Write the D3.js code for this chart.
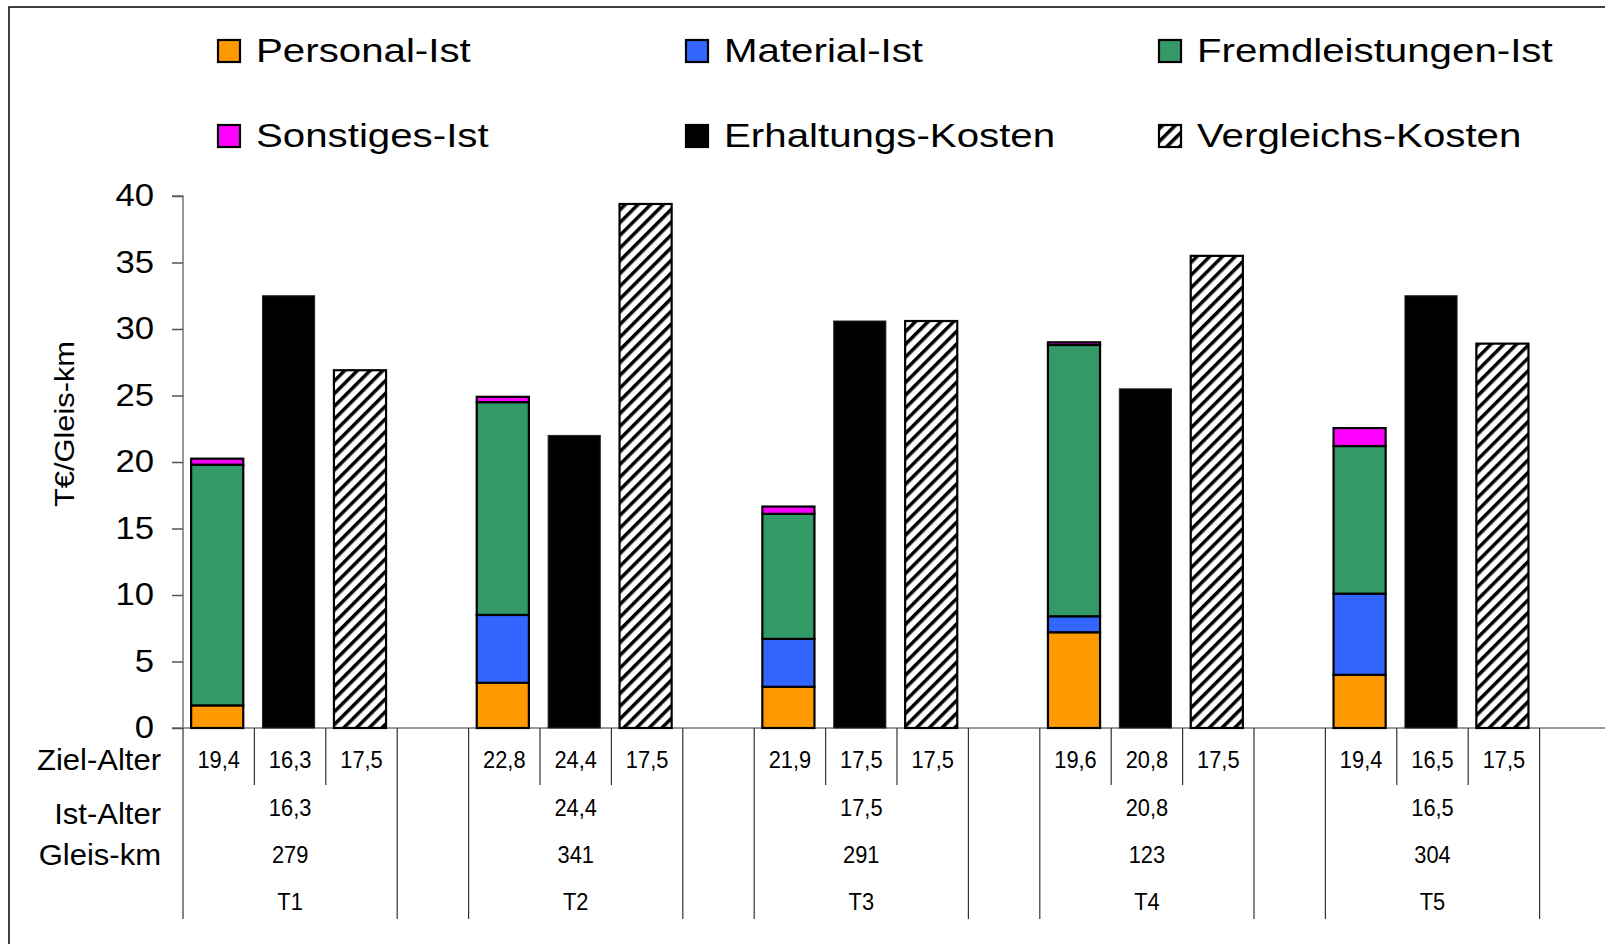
<!DOCTYPE html>
<html><head><meta charset="utf-8">
<script src="https://cdnjs.cloudflare.com/ajax/libs/d3/7.8.5/d3.min.js"></script>
<style>
html,body{margin:0;padding:0;background:#fff;overflow:hidden}
text{font-family:"Liberation Sans",Arial,sans-serif;fill:#000}
</style></head>
<body>
<svg id="c" width="1605" height="944"></svg>
<script>
const groups = ["T1","T2","T3","T4","T5"];
const personal  = [1.7, 3.4, 3.1, 7.2, 4.0];
const material  = [0.0, 5.1, 3.6, 1.2, 6.1];
const fremd     = [18.1, 16.0, 9.4, 20.4, 11.1];
const sonstiges = [0.45, 0.4, 0.55, 0.2, 1.35];
const erhaltung = [32.5, 22.0, 30.6, 25.5, 32.5];
const vergleich = [26.9, 39.4, 30.6, 35.5, 28.9];
const zielAlter = [["19,4","16,3","17,5"],["22,8","24,4","17,5"],["21,9","17,5","17,5"],["19,6","20,8","17,5"],["19,4","16,5","17,5"]];
const istAlter  = ["16,3","24,4","17,5","20,8","16,5"];
const gleisKm   = ["279","341","291","123","304"];
const yTicks    = [0,5,10,15,20,25,30,35,40];
const stackKeys = ["Personal-Ist","Material-Ist","Fremdleistungen-Ist","Sonstiges-Ist"];
const legendItems = ["Personal-Ist","Material-Ist","Fremdleistungen-Ist","Sonstiges-Ist","Erhaltungs-Kosten","Vergleichs-Kosten"];
const colors = {"Personal-Ist":"#FF9900","Material-Ist":"#3366FF","Fremdleistungen-Ist":"#339966","Sonstiges-Ist":"#FF00FF","Erhaltungs-Kosten":"#000000","Vergleichs-Kosten":"url(#hatch)"};
const rowLabels = ["Ziel-Alter","Ist-Alter","Gleis-km"];

const svg = d3.select("#c");
const defs = svg.append("defs");
const pat = defs.append("pattern").attr("id","hatch").attr("patternUnits","userSpaceOnUse")
  .attr("width",9).attr("height",9).attr("patternTransform","rotate(45)");
pat.append("rect").attr("width",9).attr("height",9).attr("fill","#fff");
pat.append("line").attr("x1",0).attr("y1",0).attr("x2",0).attr("y2",9).attr("stroke","#000").attr("stroke-width",7);

// frame
svg.append("rect").attr("x",9).attr("y",7).attr("width",1700).attr("height",1000)
  .attr("fill","none").attr("stroke","#000").attr("stroke-width",1.5);

const X0 = 183, X1 = 1611, Y0 = 728, Ytop = 196;
const y = d3.scaleLinear().domain([0,40]).range([Y0, Ytop]);

// slots: 3 bars + 1 gap per group
const slots = [];
groups.forEach((g,gi)=>{ for(let k=0;k<4;k++) slots.push(g+"_"+k); });
const xs = d3.scaleLinear().domain([0, slots.length]).range([X0, X1]);
const xb = d3.scaleBand().domain(slots).range([X0-1.5, X1-1.5]).paddingInner(0.27).paddingOuter(0.135);

// y axis
const yAxis = d3.axisLeft(y).tickValues(yTicks).tickSize(11).tickPadding(18).tickFormat(d3.format("d"));
const ya = svg.append("g").attr("transform",`translate(${X0},0)`).call(yAxis);
ya.select(".domain").attr("stroke","#777").attr("stroke-width",1.5).attr("d",`M-11,${Ytop}H0V${Y0}H-11`);
ya.selectAll(".tick line").attr("stroke","#555").attr("stroke-width",1.5);
ya.selectAll(".tick text").style("font-size","31px").attr("fill","#000")
  .attr("transform","scale(1.12,1)");
ya.selectAll(".tick text").each(function(){ d3.select(this).attr("x", -29/1.12); });

// y title
svg.append("text").attr("transform","translate(64,424) rotate(-90) scale(1.1,1)")
  .attr("text-anchor","middle").attr("dominant-baseline","central")
  .style("font-size","28px").text("T€/Gleis-km");

// x axis line
svg.append("line").attr("x1",X0).attr("x2",1605).attr("y1",Y0).attr("y2",Y0)
  .attr("stroke","#777").attr("stroke-width",1.5);

// stacked bars
groups.forEach((g,gi)=>{
  const vals = [personal[gi], material[gi], fremd[gi], sonstiges[gi]];
  let acc = 0;
  vals.forEach((v,k)=>{
    if(v<=0) return;
    svg.append("rect").attr("x",xb(g+"_0")).attr("width",xb.bandwidth())
      .attr("y",y(acc+v)).attr("height",y(acc)-y(acc+v))
      .attr("fill",colors[stackKeys[k]]).attr("stroke","#000").attr("stroke-width",2.2);
    acc += v;
  });
  svg.append("rect").attr("x",xb(g+"_1")).attr("width",xb.bandwidth())
    .attr("y",y(erhaltung[gi])).attr("height",Y0-y(erhaltung[gi]))
    .attr("fill","#000").attr("stroke","#222").attr("stroke-width",1);
  svg.append("rect").attr("x",xb(g+"_2")).attr("width",xb.bandwidth())
    .attr("y",y(vergleich[gi])).attr("height",Y0-y(vergleich[gi]))
    .attr("fill","url(#hatch)").attr("stroke","#000").attr("stroke-width",2.2);
});

// table lines
const tbl = svg.append("g").attr("stroke","#333").attr("stroke-width",1.2);
const shortBottom = 785, fullBottom = 919;
for(let i=0;i<=slots.length;i++){
  const m = i % 4;
  const full = (m===0 || m===3);
  tbl.append("line").attr("x1",xs(i)).attr("x2",xs(i)).attr("y1",Y0).attr("y2",full?fullBottom:shortBottom);
}

// table text
const rowY = {ziel:760, ist:808, gleis:855, t:902};
function cell(x, yy, t){
  svg.append("text").attr("transform",`translate(${x},${yy}) scale(0.95,1)`)
    .attr("text-anchor","middle").attr("dominant-baseline","central").style("font-size","23px").text(t);
}
groups.forEach((g,gi)=>{
  zielAlter[gi].forEach((t,k)=>{ cell(xs(gi*4+k+0.5), rowY.ziel, t); });
  const cx = xs(gi*4+1.5);
  cell(cx, rowY.ist, istAlter[gi]);
  cell(cx, rowY.gleis, gleisKm[gi]);
  cell(cx, rowY.t, g);
});
const rlY = [760, 814, 855];
rowLabels.forEach((l,i)=>{
  svg.append("text").attr("transform",`translate(161,${rlY[i]}) scale(1.07,1)`).attr("text-anchor","end").attr("dominant-baseline","central")
    .style("font-size","29px").text(l);
});

// legend
const legX = [218, 686, 1159], legY = [51, 136];
legendItems.forEach((l,i)=>{
  const cx = legX[i%3], cy = legY[Math.floor(i/3)];
  svg.append("rect").attr("x",cx).attr("y",cy-11).attr("width",22).attr("height",22)
    .attr("fill",colors[l]).attr("stroke","#000").attr("stroke-width",2.2);
  svg.append("text").attr("transform",`translate(${cx+38},${cy}) scale(1.22,1)`)
    .attr("dominant-baseline","central").style("font-size","33px").text(l);
});
</script>
</body></html>
